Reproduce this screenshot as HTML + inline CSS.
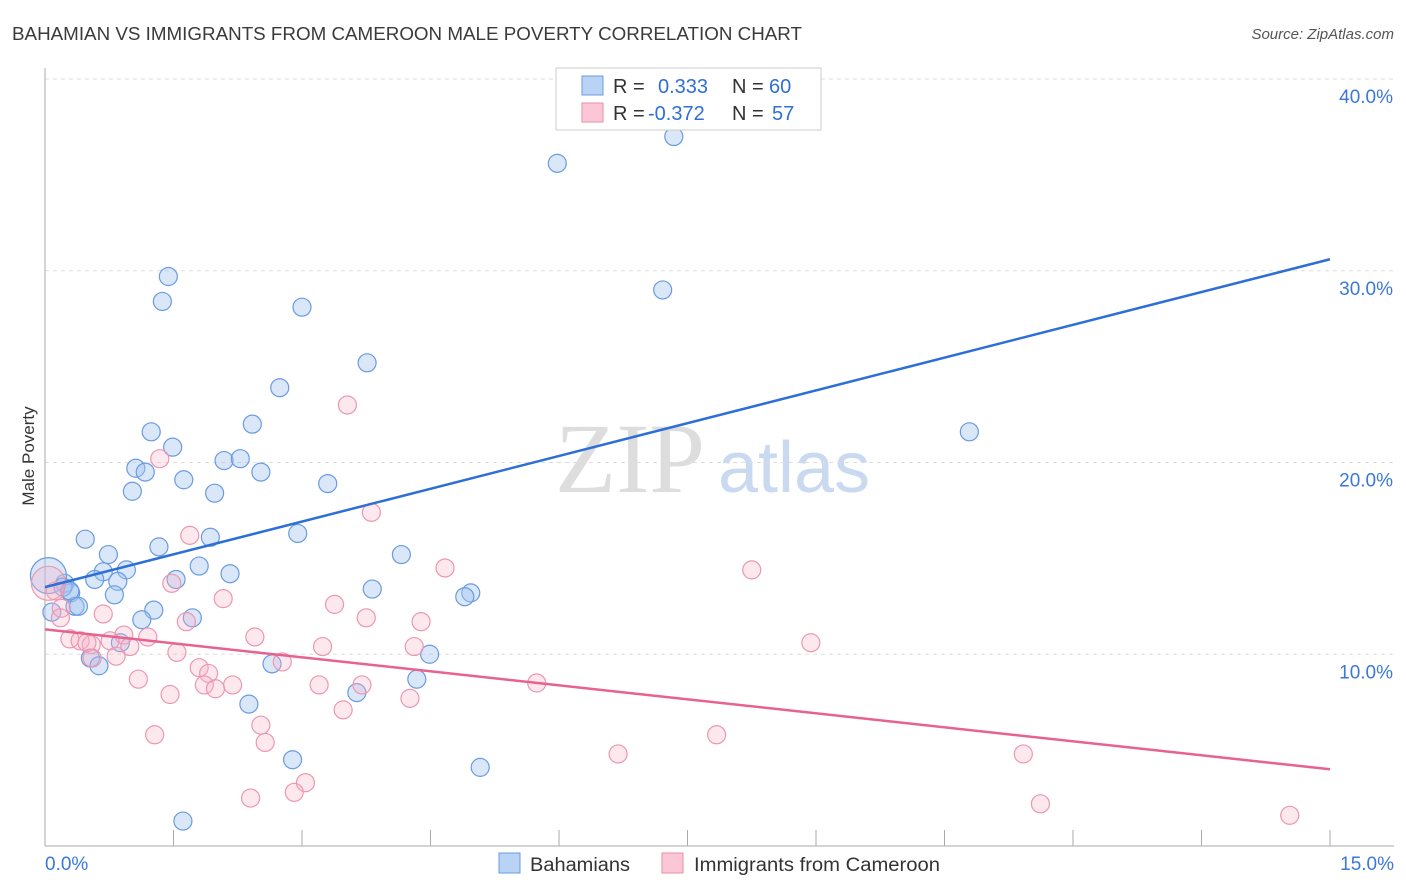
<!DOCTYPE html>
<html><head><meta charset="utf-8"><style>
body{margin:0;background:#fff;font-family:"Liberation Sans",sans-serif;}
svg{display:block}
</style></head><body>
<svg width="1406" height="892" id="chart">
<text x="12" y="40" font-size="18" fill="#3a3a3a" textLength="790" lengthAdjust="spacingAndGlyphs">BAHAMIAN VS IMMIGRANTS FROM CAMEROON MALE POVERTY CORRELATION CHART</text>
<text x="1394" y="39" font-size="15" fill="#555" font-style="italic" text-anchor="end">Source: ZipAtlas.com</text>
<text x="34" y="456" font-size="17" fill="#333" text-anchor="middle" transform="rotate(-90 34 456)">Male Poverty</text>
<text x="555" y="492" font-size="100" fill="#ddd" font-family="Liberation Serif">ZIP</text>
<text x="718" y="492" font-size="72" fill="#c9d9ef">atlas</text>
<g id="grid"></g><g id="axes"></g><g id="pts"></g><g id="lines"></g>
<g>
<rect x="556" y="68" width="265" height="62" fill="#fff" stroke="#ccc"/>
<rect x="582" y="76" width="21" height="19" fill="#b9d3f5" stroke="#6a9be0"/>
<rect x="582" y="103" width="21" height="19" fill="#fbc7d6" stroke="#ec8eab"/>
<text y="93" font-size="20" fill="#333"><tspan x="613">R =</tspan><tspan x="658" fill="#2f6fd6">0.333</tspan><tspan x="732">N =</tspan><tspan x="769" fill="#2f6fd6">60</tspan></text>
<text y="120" font-size="20" fill="#333"><tspan x="613">R =</tspan><tspan x="648" fill="#2f6fd6">-0.372</tspan><tspan x="732">N =</tspan><tspan x="772" fill="#2f6fd6">57</tspan></text>
</g>
<g>
<rect x="499" y="853" width="21" height="20" fill="#b9d3f5" stroke="#6a9be0"/>
<text x="530" y="871" font-size="19" fill="#333" textLength="100" lengthAdjust="spacingAndGlyphs">Bahamians</text>
<rect x="662" y="853" width="21" height="20" fill="#fbc7d6" stroke="#ec8eab"/>
<text x="694" y="871" font-size="19" fill="#333" textLength="246" lengthAdjust="spacingAndGlyphs">Immigrants from Cameroon</text>
</g>
</svg>
<script>
const yTicks=[10,20,30,40];
const xTickLabels=["0.0%","15.0%"];
const blueX=[7.34,5.98,1.44,1.37,3.00,7.21,3.76,2.74,10.79,2.42,1.24,1.49,1.06,1.17,2.09,2.28,2.52,1.62,3.30,1.02,1.98,0.47,1.93,2.95,1.33,0.74,4.16,0.95,0.68,1.80,2.16,1.53,0.58,0.85,0.23,3.82,0.30,0.81,4.97,4.90,1.27,0.35,0.39,1.72,1.13,0.08,0.88,4.49,0.53,0.63,2.65,4.34,3.64,2.38,2.89,5.08,1.61,0.04,0.21,0.29];
const blueY=[37.0,35.6,29.7,28.4,28.1,29.0,25.2,23.9,21.6,22.0,21.6,20.8,19.7,19.5,20.1,20.2,19.5,19.1,18.9,18.5,18.4,16.0,16.1,16.3,15.6,15.2,15.2,14.4,14.3,14.6,14.2,13.9,13.9,13.8,13.7,13.4,13.2,13.1,13.2,13.0,12.3,12.5,12.5,11.9,11.8,12.2,10.6,10.0,9.8,9.4,9.5,8.7,8.0,7.4,4.5,4.1,1.3,14.1,13.5,13.3];
const blueR=[9,9,9,9,9,9,9,9,9,9,9,9,9,9,9,9,9,9,9,9,9,9,9,9,9,9,9,9,9,9,9,9,9,9,9,9,9,9,9,9,9,9,9,9,9,9,9,9,9,9,9,9,9,9,9,9,9,18,9,9];
const pinkX=[3.53,1.34,3.81,1.69,4.67,8.25,1.48,2.08,3.38,0.19,0.68,3.75,4.39,1.65,2.45,1.20,0.92,0.29,0.41,0.54,0.76,0.49,0.99,0.83,3.24,4.31,8.94,1.54,0.55,2.77,1.80,1.91,1.09,1.86,2.19,3.20,3.70,5.74,1.99,1.46,4.26,3.48,2.52,1.28,7.84,2.57,6.69,11.42,3.04,2.91,2.40,11.62,14.53,0.12,0.18,0.04];
const pinkY=[23.0,20.2,17.4,16.2,14.5,14.4,13.7,12.9,12.6,12.4,12.1,11.9,11.7,11.7,10.9,10.9,11.0,10.8,10.7,10.5,10.7,10.6,10.4,9.9,10.4,10.4,10.6,10.1,9.8,9.6,9.3,9.0,8.7,8.4,8.4,8.4,8.4,8.5,8.2,7.9,7.7,7.1,6.3,5.8,5.8,5.4,4.8,4.8,3.3,2.8,2.5,2.2,1.6,13.3,11.9,13.7];
const pinkR=pinkX.map((_,i)=>i===55?17:9);
const blueLine=[[0,13.5],[15,30.6]];
const pinkLine=[[0,11.3],[15,4.0]];
const X0=45,X1=1330,Y0=846,Y40=79;
const xs=v=>X0+(X1-X0)*v/15;
const ys=v=>Y0-(Y0-Y40)*v/40;
const NS="http://www.w3.org/2000/svg";
function mk(parent,tag,attrs){const e=document.createElementNS(NS,tag);for(const k in attrs)e.setAttribute(k,attrs[k]);document.getElementById(parent).appendChild(e);return e;}
yTicks.forEach(t=>{
 const l=mk('grid','line',{x1:X0,x2:1394,y1:ys(t),y2:ys(t),stroke:'#ddd','stroke-dasharray':'4,4'});
 
 
 const tx=mk('grid','text',{x:1393,y:ys(t)+24,'font-size':19,fill:'#3b78d8','text-anchor':'end'});
 tx.textContent=t.toFixed(1)+'%';
 
 
});
const ax=mk('axes','line',{x1:X0,x2:X0,y1:68,y2:846,stroke:'#aaa'});


const bx=mk('axes','line',{x1:X0,x2:1394,y1:846,y2:846,stroke:'#aaa'});


for(let i=0;i<=10;i++){const v=i*1.5;const t=mk('axes','line',{x1:xs(v),x2:xs(v),y1:830,y2:846,stroke:'#aaa'});
 
 }
[[0,'start',45],[15,'end',1394]].forEach((a,i)=>{const t=mk('axes','text',{x:a[2],y:870,'font-size':19,fill:'#3b78d8','text-anchor':a[1]});t.textContent=xTickLabels[i];
 
 });
blueX.forEach((x,i)=>{const c=mk('pts','circle',{cx:xs(x),cy:ys(blueY[i]),r:blueR[i],fill:'rgba(160,196,240,0.4)',stroke:'#6a9be0','stroke-width':1.2});
 
 });
pinkX.forEach((x,i)=>{const c=mk('pts','circle',{cx:xs(x),cy:ys(pinkY[i]),r:pinkR[i],fill:'rgba(248,180,200,0.3)',stroke:'#ec97b1','stroke-width':1.2});
 
 });
const bl=mk('lines','line',{x1:xs(blueLine[0][0]),y1:ys(blueLine[0][1]),x2:xs(blueLine[1][0]),y2:ys(blueLine[1][1]),stroke:'#2d6fd6','stroke-width':2.5});


const pl=mk('lines','line',{x1:xs(pinkLine[0][0]),y1:ys(pinkLine[0][1]),x2:xs(pinkLine[1][0]),y2:ys(pinkLine[1][1]),stroke:'#e8628f','stroke-width':2.5});


</script>
</body></html>
